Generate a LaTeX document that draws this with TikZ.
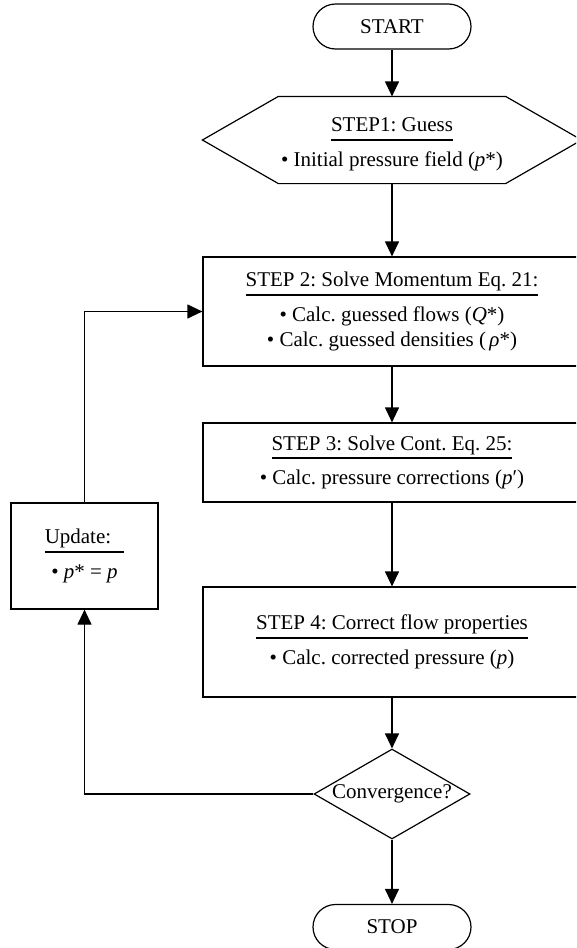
\documentclass[tikz,border=0pt]{standalone}
\usepackage{fontspec}
\setmainfont{Liberation Serif}
\frenchspacing
\usetikzlibrary{arrows.meta,shapes.misc,shapes.geometric}
\newcommand\ttl[2][0pt]{\leavevmode\vbox{\hbox{\vphantom{Qy}#2\kern#1}\kern2.8pt\hrule height2pt}}
\begin{document}
\begin{tikzpicture}[x=1pt,y=-1pt, line width=1.2pt,
  every node/.style={font=\fontsize{21pt}{25.5pt}\selectfont},
  term/.style={draw, rounded rectangle, minimum width=158pt, minimum height=45pt, inner sep=0pt},
  box/.style={draw, rectangle, minimum width=378pt, inner sep=0pt, align=center},
  arr/.style={-{Triangle[length=15pt,width=14pt]}}]
\useasboundingbox (0,0) rectangle (576,948);
\clip (0,0) rectangle (576,948);
\node[term] (start) at (392,26.5) {START};
\node[minimum width=378pt, minimum height=86pt, inner sep=0pt] (hex) at (392,140) {};
\draw (hex.west) -- ([xshift=76pt]hex.north west) -- ([xshift=-76pt]hex.north east) -- (hex.east)
  -- ([xshift=-76pt]hex.south east) -- ([xshift=76pt]hex.south west) -- cycle;
\node[inner sep=0pt, align=center] (hextext) at ([yshift=-4pt]hex.center)
  {\ttl{STEP1: Guess}\\ • Initial pressure field (\textit{p}*)};
\node[box, minimum height=109pt] (s2) at (392,311.5)
  {\ttl{STEP 2: Solve Momentum Eq. 21:}\\ • Calc. guessed flows (\textit{Q}*)\\ • Calc. guessed densities (\,\textit{ρ}*)};
\node[box, minimum height=79pt] (s3) at (392,462.5)
  {\ttl{STEP 3: Solve Cont. Eq. 25:}\\ • Calc. pressure corrections (\textit{p}′)};
\node[box, minimum height=110pt] (s4) at (392,642)
  {\ttl{STEP 4: Correct flow properties}\\ • Calc. corrected pressure (\textit{p})};
\node[draw, diamond, aspect=1.73, minimum width=156pt, minimum height=90pt, inner sep=0pt] (conv) at (392,794) {Convergence?};
\node[term] (stop) at (392,927) {STOP};
\node[draw, minimum width=147pt, minimum height=106pt, inner sep=0pt, align=center] (upd) at (84.5,556)
  {\ttl[13pt]{Update:}\\ • \textit{p}* = \textit{p}};
\draw[arr] (start.south) -- (hex.north);
\draw[arr] (hex.south) -- (s2.north);
\draw[arr] (s2.south) -- (s3.north);
\draw[arr] (s3.south) -- (s4.north);
\draw[arr] (s4.south) -- (conv.north);
\draw[arr] (conv.south) -- (stop.north);
\draw[arr] (conv.west) -| (upd.south);
\draw[arr] (upd.north) |- (s2.west);
\end{tikzpicture}
\end{document}
